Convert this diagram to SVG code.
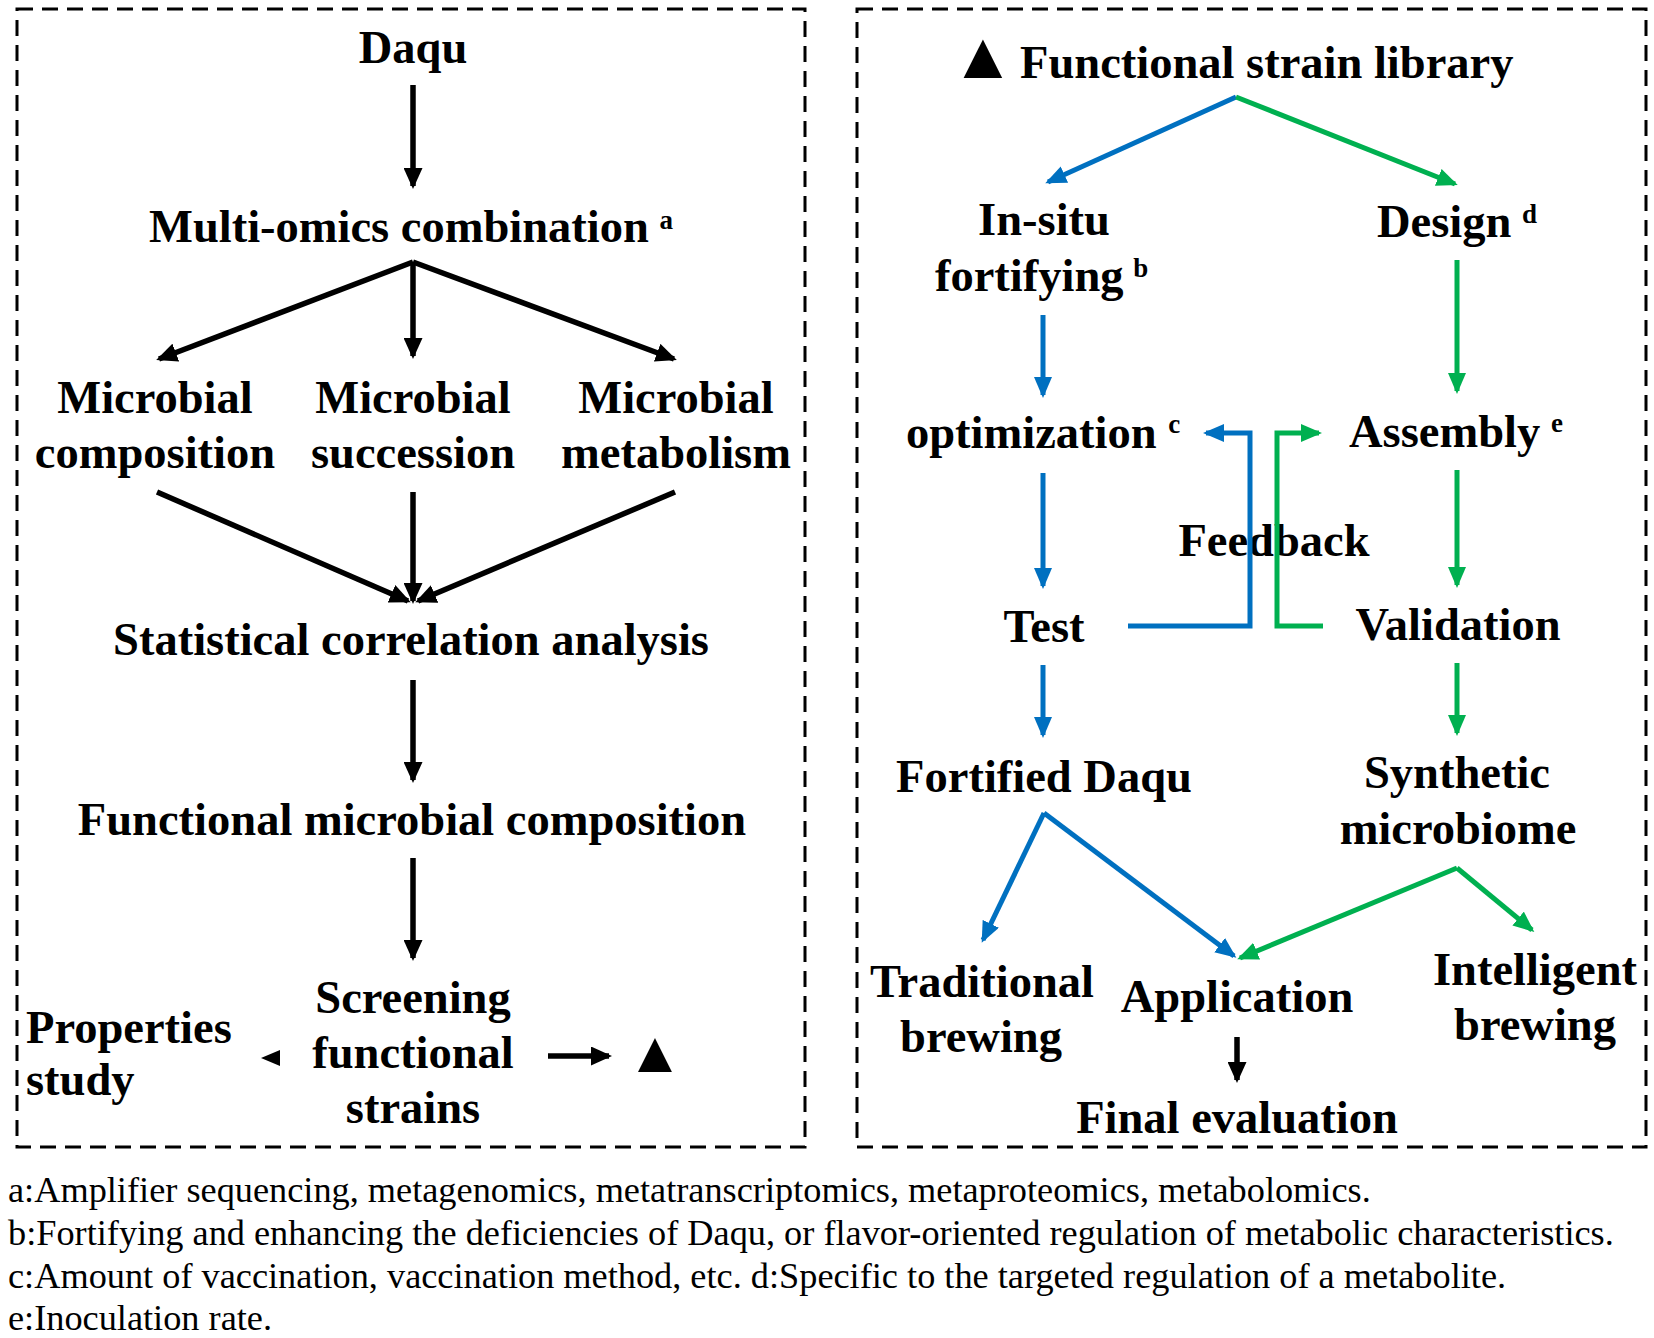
<svg xmlns="http://www.w3.org/2000/svg" width="1654" height="1338" viewBox="0 0 1654 1338">
<style>
.t{font-family:"Liberation Serif","Times New Roman",serif;font-weight:bold;font-size:46.5px;fill:#000;text-anchor:middle}
.s{text-anchor:start}
.sup{font-size:27px}
.fn{font-family:"Liberation Serif","Times New Roman",serif;font-size:36.3px;fill:#000}
.box{fill:none;stroke:#000;stroke-width:3;stroke-dasharray:16 9}
.k{fill:none;stroke:#000;stroke-width:5.5}
.b{fill:none;stroke:#0070C0;stroke-width:5}
.g{fill:none;stroke:#00B050;stroke-width:5}
</style>
<defs>
<marker id="ak" markerUnits="userSpaceOnUse" viewBox="0 0 21 19" markerWidth="21" markerHeight="19" refX="18" refY="9.5" orient="auto"><path d="M0,0 L21,9.5 L0,19 z" fill="#000"/></marker>
<marker id="ab" markerUnits="userSpaceOnUse" viewBox="0 0 21 18" markerWidth="21" markerHeight="18" refX="18" refY="9" orient="auto"><path d="M0,0 L21,9 L0,18 z" fill="#0070C0"/></marker>
<marker id="ag" markerUnits="userSpaceOnUse" viewBox="0 0 21 18" markerWidth="21" markerHeight="18" refX="18" refY="9" orient="auto"><path d="M0,0 L21,9 L0,18 z" fill="#00B050"/></marker>
</defs>
<rect width="1654" height="1338" fill="#fff"/>
<g id="frames">
<rect class="box" x="17" y="9" width="788" height="1138"/>
<rect class="box" x="857" y="9" width="789" height="1138"/>
</g>
<g id="n-daqu"><text class="t" x="413" y="63">Daqu</text></g>
<g id="n-multiomics"><text class="t s" x="149" y="242">Multi-omics combination<tspan class="sup" dy="-13" dx="4"> a</tspan></text></g>
<g id="n-composition"><text class="t" x="155" y="413">Microbial</text><text class="t" x="155" y="468">composition</text></g>
<g id="n-succession"><text class="t" x="413" y="413">Microbial</text><text class="t" x="413" y="468">succession</text></g>
<g id="n-metabolism"><text class="t" x="676" y="413">Microbial</text><text class="t" x="676" y="468">metabolism</text></g>
<g id="n-statistical"><text class="t" x="411" y="655">Statistical correlation analysis</text></g>
<g id="n-functional"><text class="t" x="412" y="835">Functional microbial composition</text></g>
<g id="n-screening"><text class="t" x="413" y="1013">Screening</text><text class="t" x="413" y="1068">functional</text><text class="t" x="413" y="1123">strains</text></g>
<g id="n-properties"><text class="t s" x="26" y="1043">Properties</text><text class="t s" x="26" y="1095">study</text></g>
<g id="n-triangle-left"><text class="t" x="655" y="1072" style="font-size:58px">▲</text></g>
<g id="n-library"><text class="t" x="983" y="78" style="font-size:66px">▲</text><text class="t s" x="1020" y="78">Functional strain library</text></g>
<g id="n-insitu"><text class="t" x="1044" y="235">In-situ</text><text class="t s" x="935" y="291">fortifying<tspan class="sup" dy="-14" dx="3"> b</tspan></text></g>
<g id="n-design"><text class="t s" x="1377" y="237">Design<tspan class="sup" dy="-14" dx="4"> d</tspan></text></g>
<g id="n-optimization"><text class="t s" x="906" y="448">optimization<tspan class="sup" dy="-15" dx="5"> c</tspan></text></g>
<g id="n-assembly"><text class="t s" x="1349" y="447">Assembly<tspan class="sup" dy="-15" dx="4"> e</tspan></text></g>
<g id="n-feedback"><text class="t" x="1274" y="556">Feedback</text></g>
<g id="n-test"><text class="t" x="1044" y="642">Test</text></g>
<g id="n-validation"><text class="t" x="1458" y="640">Validation</text></g>
<g id="n-fortified"><text class="t" x="1044" y="792">Fortified Daqu</text></g>
<g id="n-synthetic"><text class="t" x="1457" y="788">Synthetic</text><text class="t" x="1458" y="844">microbiome</text></g>
<g id="n-traditional"><text class="t" x="982" y="997">Traditional</text><text class="t" x="981" y="1052">brewing</text></g>
<g id="n-application"><text class="t" x="1237" y="1012">Application</text></g>
<g id="n-intelligent"><text class="t" x="1535" y="985">Intelligent</text><text class="t" x="1535" y="1040">brewing</text></g>
<g id="n-final"><text class="t" x="1237" y="1133">Final evaluation</text></g>
<g id="connectors">
<line class="k" x1="413" y1="85" x2="413" y2="186" marker-end="url(#ak)"/>
<line class="k" x1="413" y1="262" x2="159" y2="359" marker-end="url(#ak)"/>
<line class="k" x1="413" y1="262" x2="413" y2="356" marker-end="url(#ak)"/>
<line class="k" x1="413" y1="262" x2="674" y2="359" marker-end="url(#ak)"/>
<line class="k" x1="157" y1="492" x2="408" y2="601" marker-end="url(#ak)"/>
<line class="k" x1="413" y1="492" x2="413" y2="601" marker-end="url(#ak)"/>
<line class="k" x1="675" y1="492" x2="418" y2="601" marker-end="url(#ak)"/>
<line class="k" x1="413" y1="680" x2="413" y2="780" marker-end="url(#ak)"/>
<line class="k" x1="413" y1="858" x2="413" y2="958" marker-end="url(#ak)"/>
<line class="k" x1="548" y1="1056" x2="609" y2="1056" marker-end="url(#ak)"/>
<polygon points="261,1058 280,1050 280,1066" fill="#000"/>
<line class="b" x1="1236" y1="97" x2="1048" y2="182" marker-end="url(#ab)"/>
<line class="g" x1="1236" y1="97" x2="1455" y2="184" marker-end="url(#ag)"/>
<line class="b" x1="1043" y1="315" x2="1043" y2="395" marker-end="url(#ab)"/>
<line class="g" x1="1457" y1="260" x2="1457" y2="391" marker-end="url(#ag)"/>
<line class="b" x1="1043" y1="473" x2="1043" y2="586" marker-end="url(#ab)"/>
<line class="g" x1="1457" y1="470" x2="1457" y2="585" marker-end="url(#ag)"/>
<line class="b" x1="1043" y1="665" x2="1043" y2="735" marker-end="url(#ab)"/>
<line class="g" x1="1457" y1="663" x2="1457" y2="733" marker-end="url(#ag)"/>
<polyline class="b" points="1128,626 1250,626 1250,433 1206,433" marker-end="url(#ab)"/>
<polyline class="g" points="1323,626 1277,626 1277,433 1319,433" marker-end="url(#ag)"/>
<line class="b" x1="1044" y1="813" x2="983" y2="940" marker-end="url(#ab)"/>
<line class="b" x1="1044" y1="813" x2="1234" y2="956" marker-end="url(#ab)"/>
<line class="g" x1="1457" y1="868" x2="1240" y2="958" marker-end="url(#ag)"/>
<line class="g" x1="1457" y1="868" x2="1532" y2="930" marker-end="url(#ag)"/>
<line class="k" x1="1237" y1="1037" x2="1237" y2="1080" marker-end="url(#ak)"/>
</g>
<g id="footnotes">
<text class="fn" x="8" y="1202">a:Amplifier sequencing, metagenomics, metatranscriptomics, metaproteomics, metabolomics.</text>
<text class="fn" x="8" y="1245">b:Fortifying and enhancing the deficiencies of Daqu, or flavor-oriented regulation of metabolic characteristics.</text>
<text class="fn" x="8" y="1288">c:Amount of vaccination, vaccination method, etc. d:Specific to the targeted regulation of a metabolite.</text>
<text class="fn" x="8" y="1330">e:Inoculation rate.</text>
</g>
</svg>
